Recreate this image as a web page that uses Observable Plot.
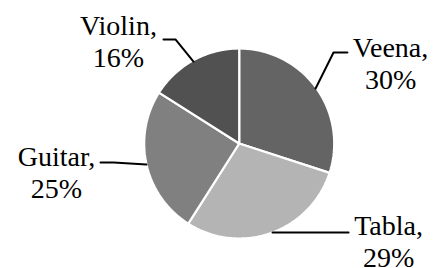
<!DOCTYPE html>
<html>
<head>
<meta charset="utf-8">
<script src="https://cdn.jsdelivr.net/npm/d3@7"></script>
<script src="https://cdn.jsdelivr.net/npm/@observablehq/plot@0.6"></script>
<style>
  html, body { margin: 0; padding: 0; background: #fff; }
</style>
</head>
<body>
<div id="chart"></div>
<script>
// ---- data ----
const instruments = ["Veena", "Tabla", "Guitar", "Violin"];
const shares = [30, 29, 25, 16];
const shareLabels = ["30%", "29%", "25%", "16%"];
const sliceColors = ["#646464", "#b4b4b4", "#808080", "#515151"];

// ---- layout (in pie-radius units, y up) ----
const labelAnchor = [[1.593, 0.853], [1.572, -1.021], [-1.923, -0.295], [-1.271, 1.084]];
const leaderPaths = [
  [[1.139, 0.958], [0.993, 0.958], [0.804, 0.579]],
  [[1.151, -0.937], [0.351, -0.937]],
  [[-1.460, -0.200], [-1.323, -0.200], [-0.976, -0.221]],
  [[-0.797, 1.095], [-0.671, 1.095], [-0.481, 0.863]]
];

const arcs = d3.pie().sort(null).value(d => d)(shares);
const slicePts = [];
arcs.forEach((a, i) => {
  const name = instruments[i];
  slicePts.push({name, x: 0, y: 0});
  const n = 120;
  for (let k = 0; k <= n; k++) {
    const t = a.startAngle + (a.endAngle - a.startAngle) * k / n;
    slicePts.push({name, x: Math.sin(t), y: Math.cos(t)});
  }
  slicePts.push({name, x: 0, y: 0});
});

const leaderPts = leaderPaths.flatMap((p, i) => p.map(([x, y]) => ({name: instruments[i], x, y})));
const labelData = instruments.map((name, i) => ({
  name, x: labelAnchor[i][0], y: labelAnchor[i][1], text: `${name},\n${shareLabels[i]}`
}));

const W = 437, H = 268, cx = 238.7, cy = 143, R = 95;

const chart = Plot.plot({
  width: W,
  height: H,
  margin: 0,
  x: {axis: null, domain: [-cx / R, (W - cx) / R]},
  y: {axis: null, domain: [(cy - H) / R, cy / R]},
  color: {domain: instruments, range: sliceColors},
  style: {background: "#fff", fontFamily: "'Times New Roman', 'Liberation Serif', 'DejaVu Serif', serif"},
  marks: [
    Plot.line(slicePts, {x: "x", y: "y", z: "name", fill: "name", stroke: "white", strokeWidth: 2.2, strokeLinejoin: "miter"}),
    Plot.line(leaderPts, {x: "x", y: "y", z: "name", stroke: "black", strokeWidth: 2}),
    Plot.text(labelData, {
      x: "x", y: "y", text: "text",
      fontFamily: "'Times New Roman', 'Liberation Serif', 'DejaVu Serif', serif",
      fontSize: 28, lineHeight: 1.15,
      fill: "black", textAnchor: "middle"
    })
  ]
});
document.getElementById("chart").appendChild(chart);
</script>
</body>
</html>
